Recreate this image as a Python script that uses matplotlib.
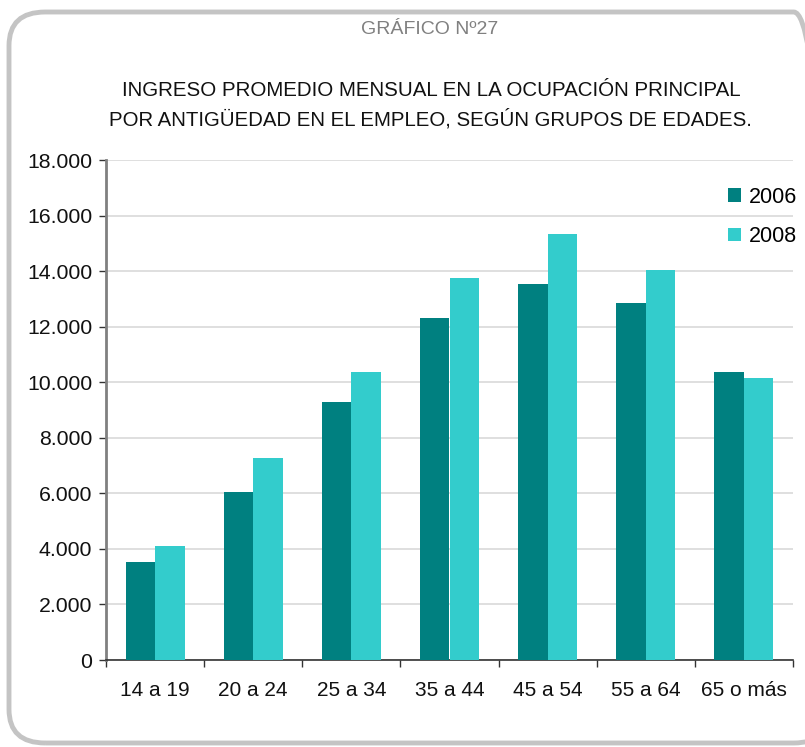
import matplotlib
matplotlib.use("Agg")
import matplotlib.pyplot as plt
from matplotlib.patches import FancyBboxPatch
from matplotlib.ticker import FuncFormatter, FixedLocator, NullFormatter
import numpy as np

categories = ["14 a 19", "20 a 24", "25 a 34", "35 a 44", "45 a 54", "55 a 64", "65 o más"]
series_names = ["2006", "2008"]
values_2006 = [3530, 6050, 9290, 12310, 13540, 12850, 10370]
values_2008 = [4100, 7270, 10370, 13750, 15340, 14040, 10150]
colors = ["#008080", "#33CCCC"]

plt.rcParams['font.family'] = ['Liberation Sans', 'DejaVu Sans']

W, H = 805, 747
fig = plt.figure(figsize=(W / 100, H / 100), dpi=100)
fig.patch.set_facecolor("white")

# rounded frame
frame = FancyBboxPatch((9 / W, 4 / H), (830 - 9) / W, (735 - 4) / H,
                       boxstyle="round,pad=0,rounding_size=0.045",
                       transform=fig.transFigure, facecolor="none",
                       edgecolor="#c4c4c4", linewidth=3.5, zorder=0)
fig.patches.append(frame)

fig.text(430 / W, 1 - 30 / H, "GRÁFICO Nº27", ha="center", va="center",
         fontsize=14, color="#808080")
fig.text(431 / W, 1 - 90 / H, "INGRESO PROMEDIO MENSUAL EN LA OCUPACIÓN PRINCIPAL",
         ha="center", va="center", fontsize=14.8, color="#111111")
fig.text(430 / W, 1 - 119 / H, "POR ANTIGÜEDAD EN EL EMPLEO, SEGÚN GRUPOS DE EDADES.",
         ha="center", va="center", fontsize=14.7, color="#111111")

ax = fig.add_axes([106 / W, 1 - 660 / H, (793 - 106) / W, (660 - 160) / H])
x = np.arange(len(categories))
bw = 0.3
ax.bar(x - bw / 2, values_2006, width=bw, color=colors[0], label=series_names[0], zorder=3)
ax.bar(x + bw / 2, values_2008, width=bw, color=colors[1], label=series_names[1], zorder=3)

ax.set_xlim(-0.5, len(categories) - 0.5)
ax.set_ylim(0, 18000)
ax.set_yticks(np.arange(0, 18001, 2000))
ax.yaxis.set_major_formatter(FuncFormatter(lambda v, p: f"{int(v):,}".replace(",", ".")))
ax.yaxis.grid(True, color="#d9d9d9", linewidth=1.2, zorder=0)
ax.set_axisbelow(True)

ax.set_xticks(x)
ax.set_xticklabels(categories)
ax.xaxis.set_minor_locator(FixedLocator(np.arange(-0.5, len(categories), 1.0)))
ax.xaxis.set_minor_formatter(NullFormatter())
ax.tick_params(axis="x", which="major", length=0, pad=15, labelsize=15, colors="#111111")
ax.tick_params(axis="x", which="minor", length=5, width=1, color="#333333", direction="out")
ax.tick_params(axis="y", length=5, width=1, color="#333333", labelsize=15.3,
               labelcolor="#111111", pad=5)

for s in ["top", "right"]:
    ax.spines[s].set_visible(False)
ax.spines["left"].set_color("#808080")
ax.spines["left"].set_linewidth(2)
ax.spines["bottom"].set_color("#333333")
ax.spines["bottom"].set_linewidth(1.2)

leg = ax.legend(loc="upper right", bbox_to_anchor=(1.034, 0.985), frameon=False,
                fontsize=15.5, handlelength=0.6, handleheight=0.6,
                handletextpad=0.35, labelspacing=0.85)

fig.savefig("out.png", dpi=100, facecolor="white")
